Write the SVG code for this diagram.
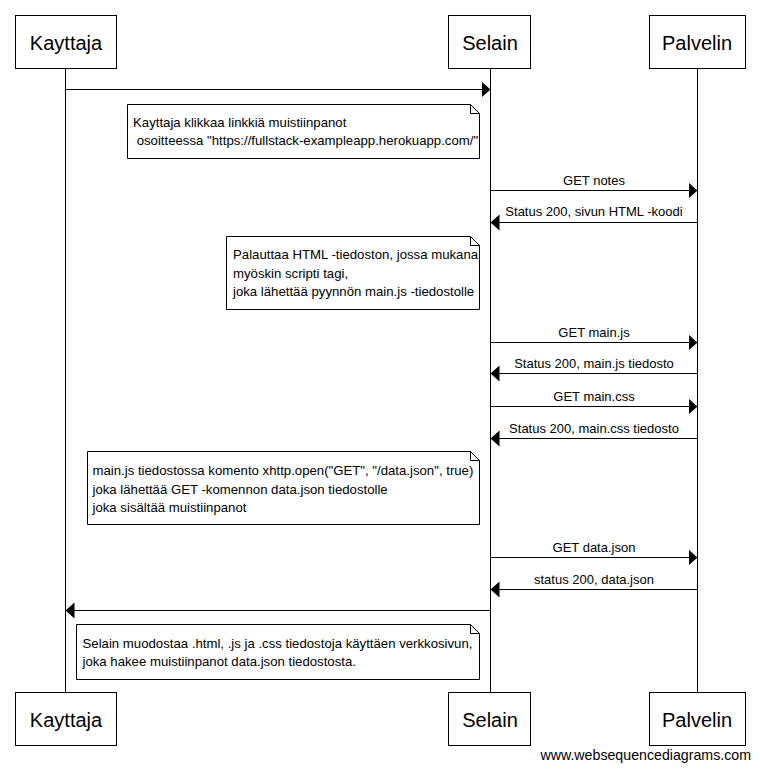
<svg xmlns="http://www.w3.org/2000/svg" width="760" height="770" viewBox="0 0 760 770">
<style>
  .box { fill: #fff; stroke: #000; stroke-width: 1; }
  .life { stroke: #000; stroke-width: 1; }
  .msg { stroke: #000; stroke-width: 1; fill: none; }
  .note { fill: #fff; stroke: #000; stroke-width: 1; }
  .fold { fill: none; stroke: #000; stroke-width: 1; }
  .actor { font-family: "Liberation Sans", Arial, sans-serif; font-size: 20px; fill: #000; text-anchor: middle; }
  .lbl { font-family: "Liberation Sans", Arial, sans-serif; font-size: 13px; fill: #000; text-anchor: middle; }
  .nt { font-family: "Liberation Sans", Arial, sans-serif; font-size: 13.2px; fill: #000; }
  .wm { font-family: "Liberation Sans", Arial, sans-serif; font-size: 14.2px; fill: #000; text-anchor: end; }
</style>
<defs>
  <marker id="ah" markerUnits="userSpaceOnUse" markerWidth="10" markerHeight="17" refX="9" refY="8" orient="auto">
    <path d="M0,0 L9,8 L0,16 Z" fill="#000"/>
  </marker>
</defs>
<rect width="760" height="770" fill="#fff"/>

<g id="lifelines">
  <line class="life" x1="65.5" y1="68" x2="65.5" y2="692"/>
  <line class="life" x1="490.5" y1="68" x2="490.5" y2="692"/>
  <line class="life" x1="697.5" y1="68" x2="697.5" y2="692"/>
</g>

<g id="actor-kayttaja-top">
  <rect class="box" x="15.5" y="15.5" width="101" height="53"/>
  <text class="actor" x="66" y="50">Kayttaja</text>
</g>
<g id="actor-selain-top">
  <rect class="box" x="448.5" y="15.5" width="82" height="53"/>
  <text class="actor" x="490" y="50">Selain</text>
</g>
<g id="actor-palvelin-top">
  <rect class="box" x="649.5" y="15.5" width="96" height="53"/>
  <text class="actor" x="697" y="50">Palvelin</text>
</g>

<g id="actor-kayttaja-bottom">
  <rect class="box" x="15.5" y="692.5" width="101" height="53"/>
  <text class="actor" x="66" y="727">Kayttaja</text>
</g>
<g id="actor-selain-bottom">
  <rect class="box" x="448.5" y="692.5" width="82" height="53"/>
  <text class="actor" x="490" y="727">Selain</text>
</g>
<g id="actor-palvelin-bottom">
  <rect class="box" x="649.5" y="692.5" width="96" height="53"/>
  <text class="actor" x="697" y="727">Palvelin</text>
</g>

<g id="connectors">
  <line class="msg" x1="65.5" y1="89.5" x2="490.5" y2="89.5" marker-end="url(#ah)"/>
  <line class="msg" x1="490.5" y1="190.5" x2="697.5" y2="190.5" marker-end="url(#ah)"/>
  <text class="lbl" x="594" y="185">GET notes</text>
  <line class="msg" x1="697.5" y1="222.5" x2="490.5" y2="222.5" marker-end="url(#ah)"/>
  <text class="lbl" x="594" y="216">Status 200, sivun HTML -koodi</text>
  <line class="msg" x1="490.5" y1="342.5" x2="697.5" y2="342.5" marker-end="url(#ah)"/>
  <text class="lbl" x="594" y="336.5">GET main.js</text>
  <line class="msg" x1="697.5" y1="373.5" x2="490.5" y2="373.5" marker-end="url(#ah)"/>
  <text class="lbl" x="594" y="367.5">Status 200, main.js tiedosto</text>
  <line class="msg" x1="490.5" y1="406.5" x2="697.5" y2="406.5" marker-end="url(#ah)"/>
  <text class="lbl" x="594" y="400.5">GET main.css</text>
  <line class="msg" x1="697.5" y1="438.5" x2="490.5" y2="438.5" marker-end="url(#ah)"/>
  <text class="lbl" x="594" y="432.5">Status 200, main.css tiedosto</text>
  <line class="msg" x1="490.5" y1="557.5" x2="697.5" y2="557.5" marker-end="url(#ah)"/>
  <text class="lbl" x="594" y="551.5">GET data.json</text>
  <line class="msg" x1="697.5" y1="589.5" x2="490.5" y2="589.5" marker-end="url(#ah)"/>
  <text class="lbl" x="594" y="583.5">status 200, data.json</text>
  <line class="msg" x1="490.5" y1="610.5" x2="65.5" y2="610.5" marker-end="url(#ah)"/>
</g>

<g id="note-1">
  <path class="note" d="M127.5,104.5 L470.5,104.5 L479.5,113.5 L479.5,158.5 L127.5,158.5 Z"/>
  <path class="fold" d="M470.5,104.5 L470.5,113.5 L479.5,113.5"/>
  <text class="nt" x="133" y="126.5">Kayttaja klikkaa linkkiä muistiinpanot</text>
  <text class="nt" x="133" y="145" xml:space="preserve"> osoitteessa "https://fullstack-exampleapp.herokuapp.com/"</text>
</g>

<g id="note-2">
  <path class="note" d="M226.5,236.5 L470.5,236.5 L479.5,245.5 L479.5,309.5 L226.5,309.5 Z"/>
  <path class="fold" d="M470.5,236.5 L470.5,245.5 L479.5,245.5"/>
  <text class="nt" x="233" y="259">Palauttaa HTML -tiedoston, jossa mukana</text>
  <text class="nt" x="233" y="277.5">myöskin scripti tagi,</text>
  <text class="nt" x="233" y="296">joka lähettää pyynnön main.js -tiedostolle</text>
</g>

<g id="note-3">
  <path class="note" d="M87.5,451.5 L470.5,451.5 L479.5,460.5 L479.5,524.5 L87.5,524.5 Z"/>
  <path class="fold" d="M470.5,451.5 L470.5,460.5 L479.5,460.5"/>
  <text class="nt" x="92.5" y="475">main.js tiedostossa komento xhttp.open("GET", "/data.json", true)</text>
  <text class="nt" x="92.5" y="493.5">joka lähettää GET -komennon data.json tiedostolle</text>
  <text class="nt" x="92.5" y="512">joka sisältää muistiinpanot</text>
</g>

<g id="note-4">
  <path class="note" d="M76.5,624.5 L470.5,624.5 L479.5,633.5 L479.5,679.5 L76.5,679.5 Z"/>
  <path class="fold" d="M470.5,624.5 L470.5,633.5 L479.5,633.5"/>
  <text class="nt" x="82.5" y="647.5">Selain muodostaa .html, .js ja .css tiedostoja käyttäen verkkosivun,</text>
  <text class="nt" x="82.5" y="666">joka hakee muistiinpanot data.json tiedostosta.</text>
</g>

<text class="wm" x="751" y="760">www.websequencediagrams.com</text>
</svg>
